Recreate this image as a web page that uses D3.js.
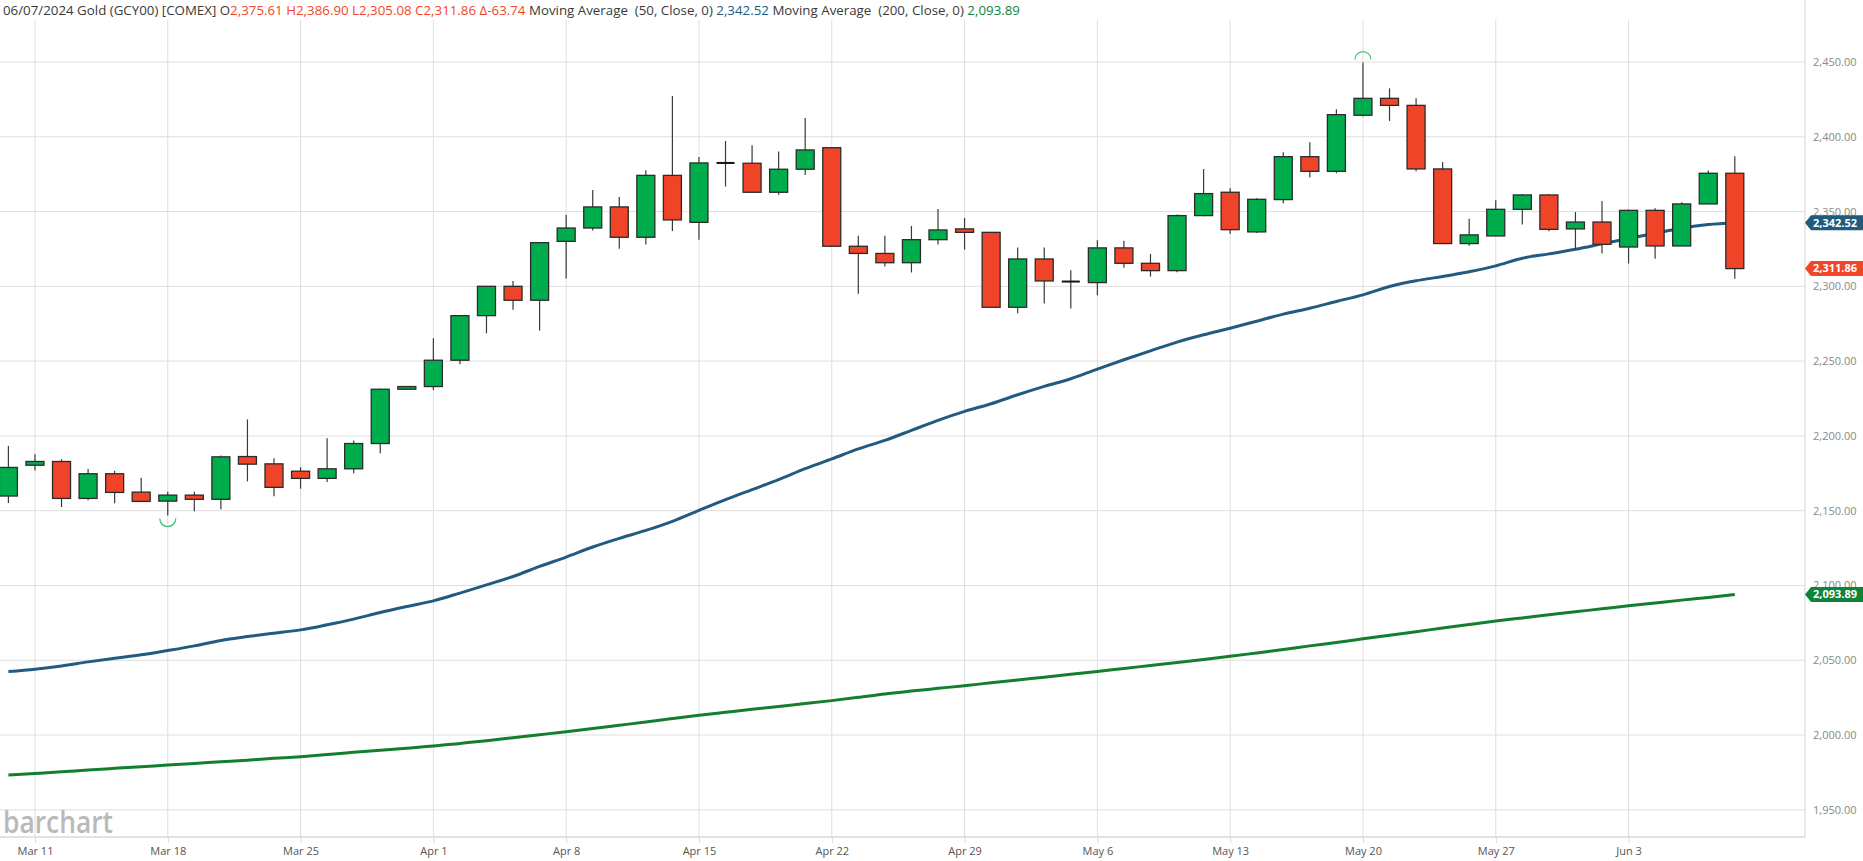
<!DOCTYPE html>
<html><head><meta charset="utf-8">
<script src="https://cdn.jsdelivr.net/npm/d3@7"></script>
<style>
body{margin:0;background:#fff;}
svg{display:block;font-family:"Open Sans",sans-serif;}
</style>
</head><body>
<svg id="c" width="1863" height="861"></svg>
<script>
// ---------- DATA ----------
const dates = ["03-08",
 "03-11","03-12","03-13","03-14","03-15",
 "03-18","03-19","03-20","03-21","03-22",
 "03-25","03-26","03-27","03-28","03-29",
 "04-01","04-02","04-03","04-04","04-05",
 "04-08","04-09","04-10","04-11","04-12",
 "04-15","04-16","04-17","04-18","04-19",
 "04-22","04-23","04-24","04-25","04-26",
 "04-29","04-30","05-01","05-02","05-03",
 "05-06","05-07","05-08","05-09","05-10",
 "05-13","05-14","05-15","05-16","05-17",
 "05-20","05-21","05-22","05-23","05-24",
 "05-27","05-28","05-29","05-30","05-31",
 "06-03","06-04","06-05","06-06","06-07"];
const opens = [2159.8,2180.4,2182.9,2158.2,2174.7,2162.4,2156.4,2160.4,2157.6,2186.2,
 2181.3,2176.4,2171.6,2178.0,2194.9,2231.2,2233.0,2250.6,2280.4,2300.0,
 2290.7,2330.1,2339.0,2353.1,2332.8,2374.2,2342.8,2382.5,2382.3,2362.9,
 2378.3,2392.7,2326.8,2322.0,2315.8,2331.2,2338.4,2336.1,2286.0,2318.3,
 2303.2,2302.5,2325.7,2315.4,2310.5,2347.3,2362.9,2336.4,2358.0,2386.7,
 2376.9,2414.4,2425.7,2421.0,2378.5,2328.6,2333.7,2351.5,2361.1,2338.4,
 2343.0,2326.3,2350.8,2327.0,2355.1,2375.61];
const highs = [2193.3,2187.8,2184.4,2177.8,2176.7,2172.0,2162.7,2162.7,2186.9,2211.0,
 2185.1,2179.1,2198.4,2196.9,2231.5,2233.3,2265.3,2280.6,2300.2,2303.6,
 2329.5,2347.7,2364.4,2359.8,2377.6,2427.3,2386.5,2397.2,2394.3,2390.1,
 2412.6,2393.0,2333.9,2333.9,2340.4,2351.7,2345.7,2336.3,2325.9,2325.9,
 2310.7,2330.8,2330.4,2321.7,2348.0,2378.5,2365.6,2358.9,2389.6,2396.3,
 2418.4,2449.6,2432.4,2425.7,2383.2,2345.2,2357.5,2361.7,2361.7,2349.7,
 2357.1,2351.3,2352.2,2356.2,2377.4,2386.90];
const lows = [2155.1,2176.9,2152.4,2156.9,2154.9,2156.0,2146.7,2149.6,2150.9,2169.6,
 2159.6,2164.7,2169.1,2175.1,2188.4,2230.8,2230.7,2247.9,2268.6,2284.4,
 2270.4,2305.2,2337.3,2325.2,2327.9,2337.0,2331.2,2366.7,2362.5,2361.3,
 2374.5,2326.5,2295.1,2313.3,2309.3,2327.9,2324.6,2285.8,2282.0,2288.5,
 2285.1,2294.0,2312.5,2306.5,2309.4,2346.8,2335.2,2335.7,2355.5,2372.7,
 2375.6,2413.5,2410.6,2376.9,2328.1,2327.2,2333.6,2341.3,2336.8,2324.6,
 2321.9,2315.3,2318.5,2327.0,2355.1,2305.08];
const closes = [2178.9,2182.9,2158.2,2174.7,2162.2,2156.2,2160.4,2157.6,2186.0,2181.1,
 2165.6,2171.6,2178.0,2194.9,2231.2,2233.0,2250.6,2280.4,2300.0,2290.7,
 2329.2,2339.0,2353.1,2332.8,2374.2,2344.4,2382.5,2382.5,2362.9,2378.3,
 2391.2,2326.8,2322.0,2315.8,2331.2,2337.7,2336.1,2286.0,2318.3,2303.6,
 2303.2,2325.7,2315.4,2310.5,2347.3,2362.0,2337.9,2358.2,2386.7,2376.9,
 2414.8,2425.7,2421.0,2378.5,2328.6,2334.4,2351.5,2361.1,2338.1,2343.0,
 2328.1,2350.8,2327.0,2355.1,2375.60,2311.86];
const ma50 = [2042.4,2044.0,2046.2,2048.9,2051.3,2053.6,2056.5,2059.6,2063.2,2065.8,
 2068.1,2070.3,2073.7,2077.5,2081.9,2085.9,2089.7,2094.9,2100.4,2106.0,
 2112.7,2119.0,2125.7,2131.5,2136.8,2142.9,2150.2,2157.4,2164.1,2170.8,
 2178.1,2184.6,2191.3,2197.0,2203.7,2210.4,2216.4,2221.5,2227.5,2233.1,
 2238.2,2244.7,2250.9,2256.9,2262.7,2267.6,2272.0,2276.7,2281.4,2285.4,
 2289.9,2294.3,2299.9,2303.7,2306.6,2309.7,2313.7,2318.8,2321.7,2324.8,
 2328.4,2332.0,2335.5,2338.9,2341.3,2342.52];
const ma200 = [1973.2,1974.3,1975.4,1976.6,1977.7,1978.8,1979.9,1981.0,1982.1,1983.2,
 1984.4,1985.5,1986.9,1988.4,1989.8,1991.2,1992.6,1994.4,1996.2,1998.2,
 2000.2,2002.2,2004.3,2006.5,2008.7,2011.0,2013.2,2015.2,2017.2,2019.1,
 2021.0,2023.0,2025.2,2027.5,2029.4,2031.2,2033.0,2034.9,2036.8,2038.7,
 2040.6,2042.5,2044.5,2046.5,2048.5,2050.5,2052.6,2054.9,2057.2,2059.6,
 2061.9,2064.3,2066.7,2069.1,2071.5,2073.9,2076.2,2078.3,2080.4,2082.4,
 2084.4,2086.4,2088.3,2090.2,2092.0,2093.89];
const tickDates = ["03-11","03-18","03-25","04-01","04-08","04-15","04-22","04-29","05-06","05-13","05-20","05-27","06-03"];
const tickLabels = ["Mar 11","Mar 18","Mar 25","Apr 1","Apr 8","Apr 15","Apr 22","Apr 29","May 6","May 13","May 20","May 27","Jun 3"];
const yTicks = [1950,2000,2050,2100,2150,2200,2250,2300,2350,2400,2450];
const headerDate = "06/07/2024", symbolName = "Gold (GCY00) [COMEX]";

// ---------- LAYOUT ----------
const svg = d3.select("#c");
const plotR = 1805, plotT = 20, plotB = 837;
const x = d3.scalePoint().domain(dates).range([8.4, 1734.8]);
const y = d3.scaleLinear().domain([1950, 2450]).range([809.8, 62]);
const fmt = d3.format(",.2f");
const GREEN = "#00ad4c", RED = "#f04428", BLUE = "#225b80", MAG = "#137f2e";

// gridlines
svg.append("g").selectAll("line").data(yTicks).join("line")
  .attr("x1", 0).attr("x2", plotR).attr("y1", d => y(d)).attr("y2", d => y(d))
  .attr("stroke", "#dedede").attr("stroke-width", 1);
svg.append("g").selectAll("line").data(tickDates).join("line")
  .attr("x1", d => x(d)).attr("x2", d => x(d)).attr("y1", plotT).attr("y2", plotB)
  .attr("stroke", "#dedede").attr("stroke-width", 1);

// frame
svg.append("line").attr("x1", 0).attr("x2", plotR).attr("y1", plotB).attr("y2", plotB)
  .attr("stroke", "#d8d8d8").attr("stroke-width", 1.5);
svg.append("line").attr("x1", plotR).attr("x2", plotR).attr("y1", 0).attr("y2", plotB)
  .attr("stroke", "#d4d4d4").attr("stroke-width", 1);

// watermark
svg.append("text").attr("x", 3).attr("y", 833).text("barchart")
  .attr("font-size", 30).attr("font-weight", 600).attr("fill", "#b9b9b9")
  .attr("textLength", 110).attr("lengthAdjust", "spacingAndGlyphs");

// x axis
const xa = svg.append("g").attr("transform", `translate(0,${plotB})`)
  .call(d3.axisBottom(x).tickValues(tickDates).tickFormat((d, i) => tickLabels[i]).tickSize(6).tickPadding(4));
xa.select(".domain").remove();
xa.selectAll("line").attr("stroke", "#d8d8d8");
xa.selectAll("text").attr("fill", "#555").attr("font-size", 11).attr("font-family", "Open Sans");

// y axis labels
const ya = svg.append("g").attr("transform", `translate(1813,0)`)
  .call(d3.axisRight(y).tickValues(yTicks).tickFormat(fmt).tickSize(0).tickPadding(0));
ya.select(".domain").remove();
ya.selectAll("text").attr("fill", "#888").attr("font-size", 11).attr("font-family", "Open Sans");

// MA lines
const idx = d3.range(dates.length);
const line = arr => d3.line().x(i => x(dates[i])).y(i => y(arr[i])).curve(d3.curveMonotoneX)(idx);
svg.append("path").attr("d", line(ma200)).attr("fill", "none").attr("stroke", MAG).attr("stroke-width", 3);
svg.append("path").attr("d", line(ma50)).attr("fill", "none").attr("stroke", BLUE).attr("stroke-width", 3);

// candles
const bw = 18;
const cg = svg.append("g");
idx.forEach(i => {
  const cx = x(dates[i]);
  const o = opens[i], c = closes[i];
  const col = c > o ? GREEN : (c < o ? RED : "#222");
  cg.append("line").attr("x1", cx).attr("x2", cx).attr("y1", y(highs[i])).attr("y2", y(lows[i]))
    .attr("stroke", "#3a3a3a").attr("stroke-width", 1.2);
  const top = y(Math.max(o, c)), h = Math.abs(y(o) - y(c));
  if (c === o) {
    cg.append("rect").attr("x", cx - bw / 2).attr("y", top - 1).attr("width", bw).attr("height", 2)
      .attr("fill", "#1a1010");
  } else {
    cg.append("rect").attr("x", cx - bw / 2).attr("y", top).attr("width", bw).attr("height", Math.max(h, 1.5))
      .attr("fill", col).attr("stroke", "#2b2b2b").attr("stroke-width", 1.3);
  }
});

// high / low markers
const hiI = d3.maxIndex(highs), loI = d3.minIndex(lows);
const r = 8;
{
  const cx = x(dates[hiI]), cy = y(highs[hiI]) - 3;
  svg.append("path").attr("d", `M${cx - r},${cy} A${r},${r} 0 0 1 ${cx + r},${cy}`)
    .attr("fill", "none").attr("stroke", "#34c46c").attr("stroke-width", 1.2);
}
{
  const cx = x(dates[loI]), cy = y(lows[loI]) + 3;
  svg.append("path").attr("d", `M${cx - r},${cy} A${r},${r} 0 0 0 ${cx + r},${cy}`)
    .attr("fill", "none").attr("stroke", "#34c46c").attr("stroke-width", 1.2);
}

// value tags
const last = dates.length - 1;
function tag(v, color) {
  const cy = y(v), hh = 7.5;
  svg.append("path").attr("d", `M${plotR},${cy} L${plotR + 6},${cy - hh} L1863,${cy - hh} L1863,${cy + hh} L${plotR + 6},${cy + hh} Z`)
    .attr("fill", color);
  svg.append("text").attr("x", 1813).attr("y", cy).attr("dy", "0.35em").text(fmt(v))
    .attr("fill", "#fff").attr("font-size", 11).attr("font-weight", 700);
}
tag(ma50[last], "#1f5a7f");
tag(closes[last], "#f0472b");
tag(ma200[last], "#10833a");

// header
const delta = closes[last] - closes[last - 1];
const ht = svg.append("text").attr("x", 3).attr("y", 15).attr("font-size", 12.5).style("white-space", "pre");
const parts = [
  [`${headerDate} ${symbolName} O`, "#3a3a3a"],
  [`${fmt(opens[last])} H${fmt(highs[last])} L${fmt(lows[last])} C${fmt(closes[last])} \u0394${delta.toFixed(2)}`, "#f0472b"],
  [` Moving Average  (50, Close, 0) `, "#3a3a3a"],
  [fmt(ma50[last]), "#1f5a7f"],
  [` Moving Average  (200, Close, 0) `, "#3a3a3a"],
  [fmt(ma200[last]), "#10833a"]
];
parts.forEach(p => ht.append("tspan").text(p[0]).attr("fill", p[1]));
const len = ht.node().getComputedTextLength();
ht.attr("transform", `translate(3,0) scale(${1018 / len},1) translate(-3,0)`);
</script>
</body></html>
